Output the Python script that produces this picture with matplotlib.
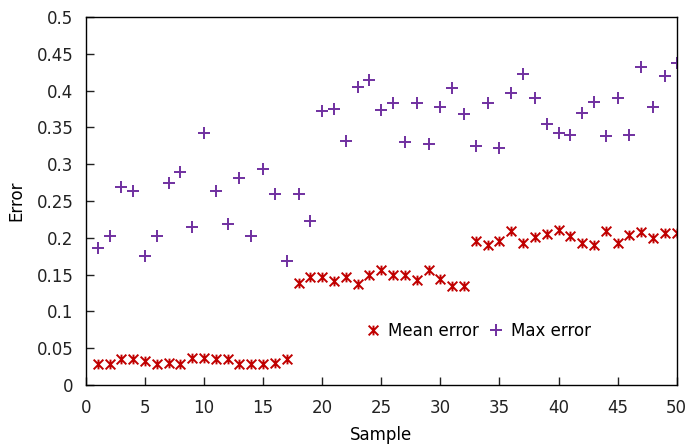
import matplotlib
matplotlib.use("Agg")
import matplotlib.pyplot as plt
from matplotlib.path import Path

# sample index
sample = list(range(1, 51))

mean_error = [0.029, 0.029, 0.035, 0.035, 0.032, 0.029, 0.030, 0.029, 0.036, 0.036,
              0.035, 0.035, 0.029, 0.029, 0.029, 0.030, 0.035, 0.138, 0.146, 0.146,
              0.141, 0.146, 0.137, 0.149, 0.156, 0.149, 0.150, 0.143, 0.156, 0.144,
              0.134, 0.134, 0.195, 0.190, 0.196, 0.209, 0.193, 0.201, 0.205, 0.210,
              0.202, 0.193, 0.190, 0.209, 0.193, 0.204, 0.208, 0.199, 0.207, 0.206]

max_error = [0.186, 0.202, 0.269, 0.263, 0.175, 0.203, 0.275, 0.289, 0.215, 0.343,
             0.264, 0.218, 0.281, 0.203, 0.294, 0.260, 0.169, 0.260, 0.223, 0.372,
             0.375, 0.332, 0.405, 0.415, 0.374, 0.383, 0.330, 0.383, 0.327, 0.378,
             0.403, 0.368, 0.325, 0.383, 0.322, 0.397, 0.422, 0.390, 0.355, 0.342,
             0.340, 0.370, 0.384, 0.338, 0.390, 0.339, 0.432, 0.378, 0.420, 0.437]

# x with a vertical stroke, like gnuplot's point type 3
star = Path([(-1, -1), (1, 1), (-1, 1), (1, -1), (0, -1), (0, 1)],
            [Path.MOVETO, Path.LINETO, Path.MOVETO, Path.LINETO, Path.MOVETO, Path.LINETO])

plt.rcParams['font.family'] = ['DejaVu Sans']
plt.rcParams['font.size'] = 12

fig = plt.figure(figsize=(6.87, 4.47), dpi=100)
ax = fig.add_axes([0.125, 0.139, 0.86, 0.823])

ax.plot(sample, mean_error, linestyle='none', marker=star, markersize=7,
        markeredgewidth=1.4, color='#c00000', label='Mean error')
ax.plot(sample, max_error, linestyle='none', marker='+', markersize=8.5,
        markeredgewidth=1.4, color='#7030a0', label='Max error')

ax.set_xlim(0, 50)
ax.set_ylim(0, 0.5)
ax.set_xticks(range(0, 51, 5))
ax.set_yticks([i * 0.05 for i in range(11)])
ax.set_yticklabels(['0', '0.05', '0.1', '0.15', '0.2', '0.25', '0.3', '0.35',
                    '0.4', '0.45', '0.5'])
ax.tick_params(direction='in', length=6, width=1, top=False, right=False,
               colors='#222222', labelsize=12)
ax.tick_params(axis='x', pad=10)
ax.tick_params(axis='y', pad=9)
for s in ax.spines.values():
    s.set_linewidth(1)

ax.set_xlabel('Sample', fontsize=12, labelpad=7)
ax.set_ylabel('Error', fontsize=12, labelpad=8)

ax.legend(loc='lower left', bbox_to_anchor=(0.45, 0.082), ncol=2, frameon=False,
          handlelength=0.8, handletextpad=0.5, columnspacing=0.6, fontsize=12)

fig.savefig('out.png', dpi=100)
